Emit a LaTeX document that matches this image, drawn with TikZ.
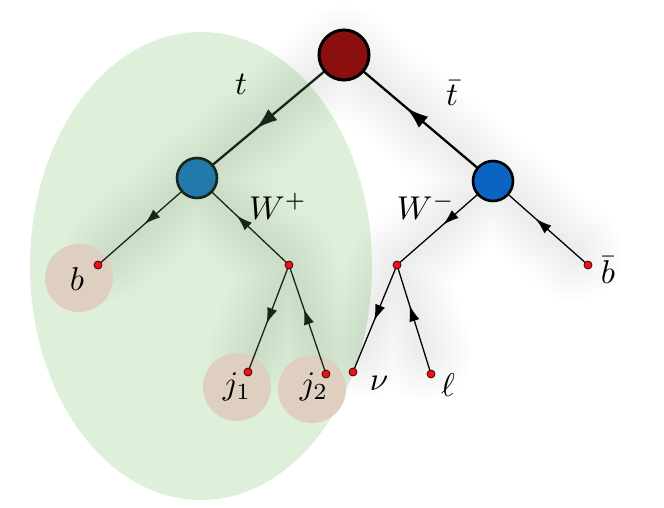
\documentclass[tikz,border=0pt]{standalone}
\usepackage{graphicx}
\usetikzlibrary{arrows.meta,decorations.markings,calc}
\definecolor{ellgreen}{HTML}{DFF0DA}
\definecolor{pinkc}{HTML}{DFCFC1}
\definecolor{topred}{HTML}{8A0F0E}
\definecolor{lblue}{HTML}{2179AC}
\definecolor{rblue}{HTML}{0B64C0}
\definecolor{dotred}{HTML}{E8131B}
\definecolor{dkgreen}{HTML}{17261A}
\newcommand{\lab}[1]{\scalebox{3.3}{$#1$}}
\tikzset{
  bigblob/.style={circle,minimum size=50pt,inner sep=0pt,line width=3pt,draw=black,fill=topred},
  wblob/.style={circle,minimum size=40pt,inner sep=0pt,line width=2.6pt},
  dot/.style={circle,minimum size=8pt,inner sep=0pt,fill=dotred,draw=black!70!red,line width=0.8pt},
  jetc/.style={circle,minimum size=68pt,inner sep=0pt,fill=pinkc},
  lbl/.style={inner sep=0pt},
  midarrow/.style 2 args={postaction={decorate},decoration={markings,mark=at position #1 with {\arrow{Latex[length=#2,width=0.65*#2]}}}},
  leg/.style={line width=1.3pt},
  thk/.style={line width=2.3pt},
  shad/.style={line width=#1,draw=black,draw opacity=0.009,line cap=round,line join=round},
}
\begin{document}
\begin{tikzpicture}[x=1pt,y=-1pt]
\useasboundingbox (0,0) rectangle (664,507);
% ellipse
\fill[ellgreen] (201,266) ellipse [x radius=171,y radius=234];
% coordinates
\coordinate (T) at (344,55);
\coordinate (WP) at (197,178);
\coordinate (WM) at (493,181);
\coordinate (b) at (98,265);
\coordinate (vp) at (289,265);
\coordinate (j1) at (248,372);
\coordinate (j2) at (326,374);
\coordinate (vm) at (397,265);
\coordinate (nu) at (353,372);
\coordinate (el) at (431,374);
\coordinate (bb) at (588,265);
% soft shadows (one path per layer so overlaps do not darken)
\foreach \w in {96,86,76,66,56,46,36,26,16}{%
  \draw[shad=\w pt,shift={(5pt,-18pt)}]
    ($(b)!0.15!(WP)$) -- (WP) -- (T) -- (WM) -- ($(bb)!0.15!(WM)$)
    (WP) -- (vp) -- ($(vp)!0.8!(j1)$) (vp) -- ($(vp)!0.8!(j2)$)
    (WM) -- (vm) -- ($(vm)!0.8!(nu)$) (vm) -- ($(vm)!0.8!(el)$);
}
% jet circles
\node[jetc] (cb) at (79,278) {};
\node[jetc] (cj1) at (237,387) {};
\node[jetc] (cj2) at (312,389) {};
% lines
\draw[thk,dkgreen,midarrow={0.6}{22pt}] (T) -- (WP);
\draw[thk,black,midarrow={0.58}{22pt}] (WM) -- (T);
\draw[leg,dkgreen,midarrow={0.53}{16pt}] (WP) -- (b);
\draw[leg,dkgreen,midarrow={0.57}{16pt}] (vp) -- (WP);
\draw[leg,dkgreen,midarrow={0.55}{16pt}] (vp) -- (j1);
\draw[leg,dkgreen,midarrow={0.6}{16pt}] (j2) -- (vp);
\draw[leg,black,midarrow={0.52}{16pt}] (WM) -- (vm);
\draw[leg,black,midarrow={0.55}{16pt}] (bb) -- (WM);
\draw[leg,black,midarrow={0.52}{16pt}] (vm) -- (nu);
\draw[leg,black,midarrow={0.63}{16pt}] (el) -- (vm);
% blobs
\node[bigblob] (nT) at (T) {};
\node[wblob,fill=lblue,draw=dkgreen] (nWP) at (WP) {};
\node[wblob,fill=rblue,draw=black] (nWM) at (WM) {};
\foreach \p in {b,vp,j1,j2,vm,nu,el,bb}{\node[dot] (d\p) at (\p) {};}
% labels
\node[lbl] (lt) at (241,84) {\lab{t}};
\node[lbl] (ltb) at (452,93) {\lab{\bar{t}}};
\node[lbl] (lWP) at (278,206) {\lab{W^{+}}};
\node[lbl] (lWM) at (426,206) {\lab{W^{-}}};
\node[lbl] (lb) at (77,279) {\lab{b}};
\node[lbl] (lbb) at (608,270) {\lab{\bar{b}}};
\node[lbl] (lj1) at (237,387) {\lab{j_{1}}};
\node[lbl] (lj2) at (314,387) {\lab{j_{2}}};
\node[lbl] (lnu) at (379,383) {\lab{\nu}};
\node[lbl] (lel) at (448,385) {\lab{\ell}};
\end{tikzpicture}
\end{document}
